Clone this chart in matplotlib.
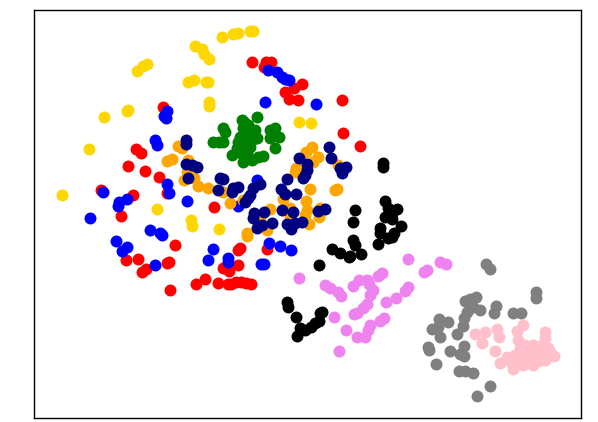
import matplotlib
matplotlib.use("Agg")
import matplotlib.pyplot as plt

red = [(163,107),(252,62),(266,62),(271,62),(264,67),(302,84),(294,88),(285,92),(289,99),(298,100),(342,100),(343,133),(360,146),
       (136,149),(141,153),(128,166),(145,171),(159,177),(101,190),(133,195),(167,193),(214,207),(121,216),(175,245),(126,260),(138,259),
       (142,272),(146,269),(167,263),(169,262),(170,290),(196,284),(205,279),(218,283),(228,284),(223,268),(229,271),(231,284),(236,282),
       (241,282),(246,283),(251,284),(238,250),(240,248),(238,265),(267,249)]
blue = [(167,111),(164,116),(166,118),(155,140),(157,145),(268,70),(277,72),(282,77),(285,79),(289,80),(265,102),(316,104),
        (167,184),(169,193),(187,201),(103,192),(127,199),(119,202),(118,206),(90,218),(150,230),(160,233),(162,235),(116,241),(122,251),
        (127,247),(155,265),(213,249),(208,260),(228,258),(228,262),(257,180),(238,206),(269,243),(280,246),(291,250),(261,264),(264,264)]
gold = [(137,71),(143,66),(147,64),(195,46),(202,49),(204,54),(209,59),(222,37),(188,82),(194,80),(206,82),(208,82),(209,102),(209,106),
        (127,111),(128,110),(104,117),(233,34),(238,33),(250,31),(253,31),(299,122),(311,123),(89,149),(62,195),(157,209),(191,220),(192,226),(219,229)]
orange = [(178,146),(182,148),(172,159),(167,161),(188,160),(187,172),(194,178),(184,180),(198,186),(208,188),(223,192),(230,203),(243,200),
          (270,209),(247,233),(247,236),(267,230),(260,219),(312,147),(306,152),(318,157),(313,162),(296,168),(298,170),(310,189),(337,189),
          (338,165),(335,190),(283,199),(306,201),(307,210),(309,224),(319,217),(320,208),(290,217),(290,208),(295,172),(305,215)]
green = [(257,117),(242,120),(244,122),(248,125),(223,128),(225,132),(219,142),(213,142),(223,142),(275,128),(270,130),(279,137),(270,138),
         (275,148),(255,130),(243,128),(240,137),(252,140),(242,143),(237,148),(232,155),(243,162),(252,160),(263,156),(258,157),(250,147),
         (245,133),(257,138),(238,142),(253,135),(247,130),(247,152),(241,153),(248,142)]
navy = [(186,140),(186,144),(186,164),(192,165),(197,167),(188,178),(220,178),(223,179),(218,190),(232,192),(238,187),(233,188),(260,184),
        (253,188),(250,195),(245,202),(248,198),(287,179),(281,189),(285,194),(296,194),(282,210),(293,212),(264,212),(254,213),(253,218),(272,223),
        (262,225),(257,228),(302,222),(295,223),(287,224),(291,229),(318,211),(325,209),(299,158),(307,164),(307,170),(305,175),(303,178),
        (329,147),(331,158),(340,168),(346,167),(342,173)]
black = [(383,163),(383,167),(385,201),(388,208),(397,209),(392,213),(385,217),(392,219),(355,210),(353,222),(401,226),(394,233),(380,228),
         (380,233),(388,238),(392,237),(378,244),(353,240),(355,245),(332,249),(340,253),(349,257),(350,256),(361,254),(319,265),
         (287,302),(288,307),(296,317),(300,328),(305,330),(311,327),(320,313),(322,312),(319,321),(297,336),(315,323)]
violet = [(299,278),(325,285),(330,288),(338,292),(341,296),(353,286),(359,280),(367,280),(369,284),(373,290),(370,295),(382,273),(378,276),
          (408,259),(424,272),(427,270),(440,262),(446,264),(408,287),(405,291),(396,298),(386,302),(367,304),(363,308),(357,313),(354,314),
          (334,317),(384,318),(380,321),(370,325),(368,330),(365,337),(357,337),(346,330),(339,351)]
gray = [(486,264),(490,269),(536,292),(536,298),(476,297),(470,299),(465,301),(480,310),(473,307),(467,312),(464,318),(463,326),(496,306),
        (494,313),(513,313),(521,313),(439,319),(448,322),(438,327),(432,329),(440,337),(457,334),(428,347),(429,350),(450,351),(464,346),
        (460,354),(464,356),(436,364),(459,371),(465,371),(473,373),(490,386),(477,396)]
pink = [(475,334),(485,332),(482,343),(497,329),(499,337),(495,351),(523,325),(517,331),(545,332),(545,338),(518,340),(520,348),(500,363),
        (507,357),(513,369),(523,365),(533,365),(545,360),(554,356),(548,348),(542,345),(533,345),(527,350),(515,355),(522,357),(535,357),
        (542,353),(528,362),(519,361),(530,356),(538,350),(525,345),(510,360),(550,352),(512,363),(538,361)]

groups = [(red, "red"), (blue, "blue"), (gold, "gold"), (orange, "orange"), (green, "green"),
          (navy, "navy"), (black, "black"), (violet, "violet"), (gray, "gray"), (pink, "pink")]

fig = plt.figure(figsize=(5.98, 4.22), dpi=100)
ax = fig.add_axes([34/598, 1-417.5/422, 547/598, 408/422])
for pts, col in groups:
    xs, ys = zip(*pts)
    ax.scatter(xs, ys, s=74, c=col, linewidths=0)
ax.set_xlim(34, 581)
ax.set_ylim(417.5, 9.5)
ax.set_xticks([])
ax.set_yticks([])
for spine in ax.spines.values():
    spine.set_linewidth(1.0)
fig.savefig("out.png", dpi=100)
